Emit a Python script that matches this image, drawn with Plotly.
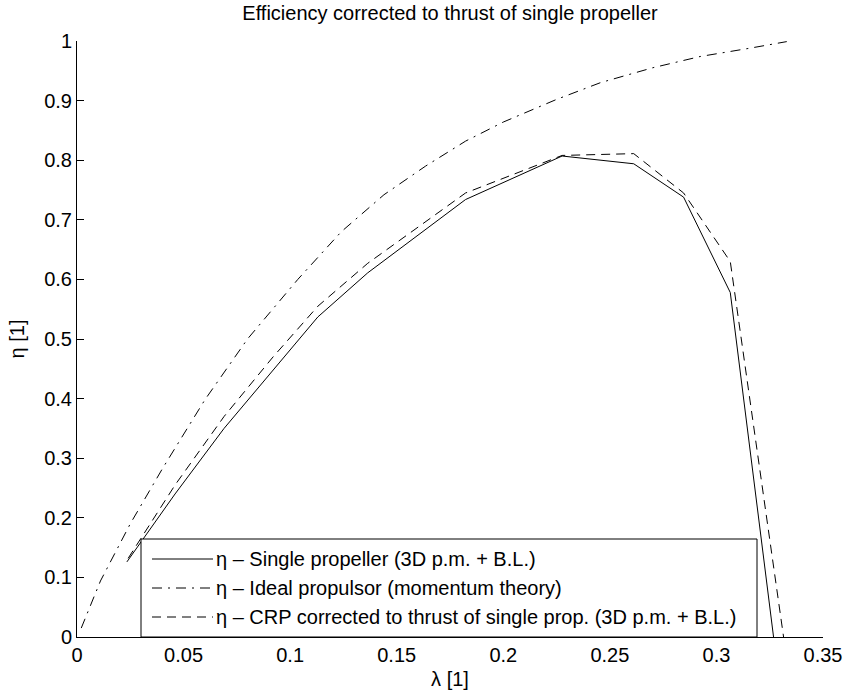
import plotly.graph_objects as go

# ---- data ----
lam_single = [0.0234, 0.046, 0.069, 0.092, 0.113, 0.1364, 0.1823, 0.2276, 0.2612, 0.2846, 0.3065, 0.3268]
eta_single = [0.126, 0.24, 0.35, 0.448, 0.537, 0.611, 0.734, 0.807, 0.794, 0.738, 0.578, 0.0]

lam_ideal = [0.002, 0.011, 0.025, 0.04, 0.06, 0.08, 0.1036, 0.124, 0.144, 0.1635, 0.1823, 0.2, 0.225, 0.2455, 0.27, 0.2924, 0.3158, 0.333]
eta_ideal = [0.015, 0.094, 0.19, 0.282, 0.398, 0.50, 0.600, 0.68, 0.742, 0.79, 0.832, 0.864, 0.902, 0.93, 0.955, 0.974, 0.988, 0.999]

lam_crp = [0.024, 0.046, 0.069, 0.092, 0.113, 0.1364, 0.1823, 0.2276, 0.2612, 0.2846, 0.3065, 0.3315]
eta_crp = [0.132, 0.255, 0.37, 0.47, 0.555, 0.627, 0.745, 0.808, 0.811, 0.745, 0.63, 0.0]

series_names = [
    "η – Single propeller (3D p.m. + B.L.)",
    "η – Ideal propulsor (momentum theory)",
    "η – CRP corrected to thrust of single prop. (3D p.m. + B.L.)",
]
series_dash = ["solid", "10px,6px,2px,6px", "9px,6px"]

x_ticks = [0, 0.05, 0.1, 0.15, 0.2, 0.25, 0.3, 0.35]
x_ticktext = ["0", "0.05", "0.1", "0.15", "0.2", "0.25", "0.3", "0.35"]
y_ticks = [0, 0.1, 0.2, 0.3, 0.4, 0.5, 0.6, 0.7, 0.8, 0.9, 1.0]
y_ticktext = ["0", "0.1", "0.2", "0.3", "0.4", "0.5", "0.6", "0.7", "0.8", "0.9", "1"]

title_text = "Efficiency corrected to thrust of single propeller"
x_title = "λ [1]"
y_title = "η [1]"

FONT = "Liberation Sans, Arial, Helvetica, sans-serif"
FS = 20

fig = go.Figure()
for lam, eta, name, dash in zip([lam_single, lam_ideal, lam_crp],
                                [eta_single, eta_ideal, eta_crp],
                                series_names, series_dash):
    fig.add_trace(go.Scatter(x=lam, y=eta, mode="lines", name=name,
                             line=dict(color="black", width=1, dash=dash),
                             showlegend=False, cliponaxis=True))

W, H = 843, 694
ml, mr, mt, mb = 77, 20, 41, 57
pw = W - ml - mr
ph = H - mt - mb


def px2paper_x(px):
    return (px - ml) / pw


def py2paper_y(py):
    return (H - mb - py) / ph


# ---- legend box drawn in paper coordinates ----
leg_l, leg_r, leg_t, leg_b = 141, 757, 539, 637
shapes = [dict(type="rect", xref="paper", yref="paper",
               x0=px2paper_x(leg_l), x1=px2paper_x(leg_r),
               y0=py2paper_y(leg_b), y1=py2paper_y(leg_t),
               line=dict(color="black", width=1), fillcolor="white", layer="above")]
annotations = []
row_y = [559, 588, 617]
for i, (name, dash) in enumerate(zip(series_names, series_dash)):
    yy = py2paper_y(row_y[i])
    shapes.append(dict(type="line", xref="paper", yref="paper",
                       x0=px2paper_x(152), x1=px2paper_x(213), y0=yy, y1=yy,
                       line=dict(color="black", width=1, dash=dash), layer="above"))
    annotations.append(dict(xref="paper", yref="paper", x=px2paper_x(214), y=yy,
                            text=name, showarrow=False, xanchor="left", yanchor="middle",
                            font=dict(family=FONT, size=FS, color="black")))

fig.update_layout(
    width=W, height=H,
    margin=dict(l=ml, r=mr, t=mt, b=mb, autoexpand=False),
    paper_bgcolor="white", plot_bgcolor="white",
    font=dict(family=FONT, color="black", size=FS),
    title=dict(text=title_text, x=0.5, xref="paper", y=1 - 13 / H, yanchor="middle",
               font=dict(family=FONT, size=FS, color="black")),
    showlegend=False,
    shapes=shapes,
    annotations=annotations,
    xaxis=dict(range=[0, 0.35], tickvals=x_ticks, ticktext=x_ticktext,
               showline=True, linecolor="black", linewidth=1, mirror=False,
               ticks="inside", ticklen=7, tickcolor="black", tickwidth=1,
               showgrid=False, zeroline=False, automargin=False,
               tickfont=dict(family=FONT, size=FS, color="black"),
               title=dict(text=x_title, standoff=6, font=dict(family=FONT, size=FS, color="black"))),
    yaxis=dict(range=[0, 1], tickvals=y_ticks, ticktext=y_ticktext,
               showline=True, linecolor="black", linewidth=1, mirror=False,
               ticks="inside", ticklen=7, tickcolor="black", tickwidth=1,
               showgrid=False, zeroline=False, automargin=False,
               tickfont=dict(family=FONT, size=FS, color="black"),
               title=dict(text=y_title, standoff=14, font=dict(family=FONT, size=FS, color="black"))),
)

fig.write_html("out.html")
